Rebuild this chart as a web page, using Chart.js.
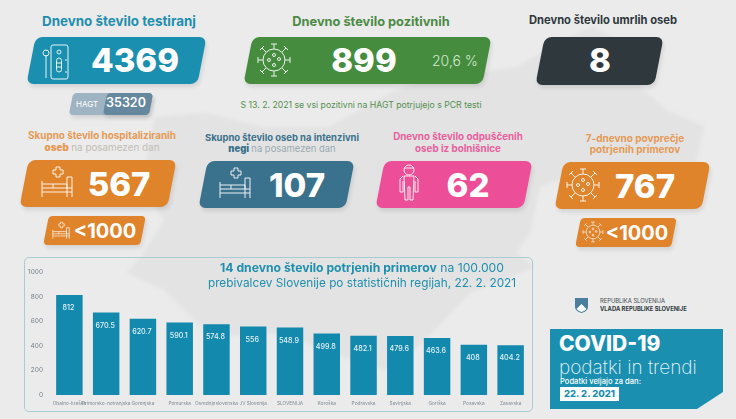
<!DOCTYPE html>
<html>
<head>
<meta charset="utf-8">
<script src="https://cdn.jsdelivr.net/npm/chart.js@4"></script>
<style>
  html, body { margin: 0; padding: 0; }
  body { width: 736px; height: 419px; overflow: hidden; background: #ebebeb; position: relative; font-family: Inter, "Open Sans", sans-serif; }
  #map { position: absolute; left: 0; top: 0; filter: blur(1.5px); }
  .card { position: absolute; transform: skewX(-11deg); border-radius: 7px; box-shadow: 2px 3px 4px rgba(0,0,0,0.10); }
  .t { position: absolute; white-space: nowrap; transform: translate(-50%, -50%); line-height: 1; }
  .l { position: absolute; white-space: nowrap; transform: translateY(-50%); line-height: 1; }
  #panel { position: absolute; left: 24px; top: 257px; width: 509px; height: 155px; border: 1px solid #a8cbd4; border-radius: 5px; box-sizing: border-box; }
  #chartBox { position: absolute; left: 24px; top: 257px; width: 510px; height: 156px; }
  #covid { position: absolute; left: 550px; top: 329px; width: 173px; height: 80px; background: #1a8fb0; clip-path: polygon(0 0, 100% 0, 100% 63px, 147px 100%, 0 100%); }
  #dateBox { position: absolute; left: 560px; top: 387px; width: 59px; height: 14px; background: #fff; }
  svg.ic { position: absolute; fill: none; stroke: #fff; overflow: visible; opacity: 0.9; }
</style>
</head>
<body>
<svg id="map" width="736" height="419">
  <path fill="#e3e3e3" d="M155 117 L207 113 L263 127 L329 127 L390 93 L423 80 L516 67 L563 40 L592 27 L624 43 L643 90 L667 110 L704 127 L695 167 L577 173 L540 187 L530 233 L516 253 L535 267 L470 293 L423 343 L385 370 L329 353 L282 333 L211 337 L164 290 L127 273 L141 257 L164 220 L141 187 Z"/>
</svg>
<div id="panel"></div>
<div id="chartBox"><canvas id="regions"></canvas></div>
<div id="covid"></div>
<div id="dateBox"></div>
<svg width="0" height="0" style="position:absolute">
  <defs>
    <g id="virus">
      <circle cx="0" cy="0" r="11"/>
      <circle cx="0" cy="-5" r="1.5"/><circle cx="-5" cy="0" r="1.5"/><circle cx="5" cy="-1" r="1.5"/><circle cx="0" cy="5" r="1.5"/>
      <path d="M0 -11V-16M-3 -16H3M0 11V16M-3 16H3M-11 0H-16M-16 -3V3M11 0H16M16 -3V3M-8 -8L-12 -12M-14 -10L-10 -14M8 -8L12 -12M10 -14L14 -10M-8 8L-12 12M-14 10L-10 14M8 8L12 12M10 14L14 10"/>
    </g>
    <g id="bed">
      <path d="M-15 14V-2M-15 5H15M-15 9H15M15 14V-6M10 14V-6H15M10 5V1H-4V5M-15 1H-4"/>
      <path d="M-4 -13H-1V-16H3V-13H6V-9H3V-6H-1V-9H-4Z"/>
    </g>
    <g id="person">
      <circle cx="0" cy="-13" r="5"/>
      <path d="M-6 -7L-9 -4V9H-6V-2M6 -7L9 -4V9H6V-2M-5 -7H5L4 17H1V4H-1V17H-4ZM-5 -15H5"/>
    </g>
    <g id="kit">
      <rect x="-8" y="-16" width="17" height="34" rx="2"/>
      <circle cx="0" cy="-9" r="2"/><rect x="-2.5" y="-3" width="5" height="14" rx="2.5"/>
      <path d="M-2.5 2H2.5M-2.5 6H2.5M6 -1H8M6 11H8M-13 -6V17"/>
      <circle cx="-13" cy="-8" r="3"/>
    </g>
  </defs>
</svg>
<script>
// --- Data ---
const regions = ['Obalno-kraška', 'Primorsko-notranjska', 'Gorenjska', 'Pomurska', 'Osrednjeslovenska', 'JV Slovenija', 'SLOVENIJA', 'Koroška', 'Podravska', 'Savinjska', 'Goriška', 'Posavska', 'Zasavska'];
const incidence = [812, 670.5, 620.7, 590.1, 574.8, 556, 548.9, 499.8, 482.1, 479.6, 463.6, 408, 404.2];
const incidenceLabels = ['812', '670.5', '620.7', '590.1', '574.8', '556', '548.9', '499.8', '482.1', '479.6', '463.6', '408', '404.2'];
const yTicks = [0, 200, 400, 600, 800, 1000];

const TEAL = '#1a8fb0', GREEN = '#458c3f', DARK = '#2f383d', ORANGE = '#e0842c', BLUE = '#3a718c', PINK = '#ec4f97';

// --- Infographic pieces around the chart ---
function card(x0, y0, x1, y1, color, radius) {
  const el = document.createElement('div');
  const inset = (y1 - y0) * Math.tan(11 * Math.PI / 180) / 2;
  el.className = 'card';
  el.style.cssText = `left:${x0 + inset}px;top:${y0}px;width:${x1 - x0 - 2 * inset}px;height:${y1 - y0}px;background:${color};border-radius:${radius || 7}px`;
  document.body.appendChild(el);
}
function text(html, x, y, size, weight, color, cls) {
  const el = document.createElement('div');
  el.className = cls || 't';
  el.innerHTML = html;
  el.style.cssText = `left:${x}px;top:${y}px;font-size:${size}px;font-weight:${weight};color:${color}`;
  document.body.appendChild(el);
}
function icon(name, x, y, scale, strokeW) {
  const ns = 'http://www.w3.org/2000/svg';
  const svg = document.createElementNS(ns, 'svg');
  svg.setAttribute('class', 'ic');
  svg.setAttribute('width', '1');
  svg.setAttribute('height', '1');
  svg.style.left = x + 'px';
  svg.style.top = y + 'px';
  const use = document.createElementNS(ns, 'use');
  use.setAttribute('href', '#' + name);
  use.setAttribute('transform', `scale(${scale})`);
  use.setAttribute('stroke-width', (strokeW || 1) / scale);
  svg.appendChild(use);
  document.body.appendChild(svg);
}

card(26, 37, 206, 84, TEAL);
card(243, 37, 491, 84, GREEN);
card(535, 37, 663, 85, DARK);
card(69, 93, 153, 115, '#9fb4c2', 4);
card(103, 93, 153, 115, '#66889f', 4);
card(19, 160, 176, 207, ORANGE);
card(198, 161, 354, 208, BLUE);
card(375, 161, 532, 208, PINK);
card(554, 162, 710, 209, ORANGE);
card(43, 216, 146, 245, ORANGE, 4);
card(575, 218, 677, 247, ORANGE, 4);

text('Dnevno število testiranj', 119, 22, 13.4, 700, '#1f8fae');
text('Dnevno število pozitivnih', 371, 22, 12.8, 700, '#4b8a45');
text('Dnevno število umrlih oseb', 603, 21, 11.2, 700, DARK);
text('4369', 135, 60, 33, 800, '#fff');
text('899', 364, 60, 33, 800, '#fff');
text('8', 600, 60, 33, 800, '#fff');
text('20,6 %', 455, 61, 14, 300, '#d3e8cd');
text('HAGT', 87, 104, 8, 400, '#fff');
text('35320', 126, 103, 12.5, 600, '#fff');
text('S 13. 2. 2021 se vsi pozitivni na HAGT potrjujejo s PCR testi', 361, 105, 8.7, 400, '#558f50');

text('Skupno število hospitaliziranih', 102, 136, 9.9, 700, '#e59a55');
text('<b>oseb</b> <span style="color:#c4bcb4;font-weight:400">na posamezen dan</span>', 102, 148, 9.9, 700, '#e59a55');
text('Skupno število oseb na intenzivni', 282, 138, 9.45, 700, BLUE);
text('<b>negi</b> <span style="color:#9aaab2;font-weight:400">na posamezen dan</span>', 282, 149, 9.45, 700, BLUE);
text('Dnevno število odpuščenih', 458, 137, 9.8, 700, '#e8609e');
text('oseb iz bolnišnice', 458, 149, 9.8, 700, '#e8609e');
text('7-dnevno povprečje', 635, 138, 10, 700, '#e59a55');
text('potrjenih primerov', 635, 149, 10, 700, '#e59a55');
text('567', 119, 184, 33, 800, '#fff');
text('107', 297, 185, 33, 800, '#fff');
text('62', 468, 185, 33, 800, '#fff');
text('767', 645, 186, 33, 800, '#fff');
text('&lt;1000', 105, 231, 20, 700, '#fff');
text('&lt;1000', 637, 233, 20, 700, '#fff');

icon('kit', 59, 61, 1);
icon('virus', 274, 60, 1);
icon('bed', 56.5, 183, 1);
icon('bed', 234.5, 184, 1);
icon('person', 409, 183, 1);
icon('virus', 583, 185, 1);
icon('bed', 60.5, 231, 0.55, 0.7);
icon('virus', 593, 232, 0.62, 0.7);

text('<b>14 dnevno število potrjenih primerov</b> na 100.000', 362, 268, 12.2, 400, '#1f8fae');
text('prebivalcev Slovenije po statističnih regijah, 22. 2. 2021', 362, 283.5, 11.8, 400, '#1f8fae');

text('REPUBLIKA SLOVENIJA', 600, 301, 5.8, 400, '#3d4a52', 'l');
text('VLADA REPUBLIKE SLOVENIJE', 600, 309, 5.8, 700, '#2f383d', 'l');
document.body.insertAdjacentHTML('beforeend', '<svg style="position:absolute;left:575px;top:297px" width="13" height="16"><path d="M0 1H13V10Q13 14 6.5 16Q0 14 0 10Z" fill="#4a7f9c"/><path d="M1.5 12L6.5 7L11.5 12Q9 14.5 6.5 15Q4 14.5 1.5 12Z" fill="#fff"/></svg>');
text('COVID-19', 559, 343, 21, 800, '#fff', 'l');
text('podatki in trendi', 559, 367, 19, 200, '#e8f4f8', 'l');
text('Podatki veljajo za dan:', 560, 382, 7.6, 500, '#fff', 'l');
text('22. 2. 2021', 589.5, 394, 9.5, 800, TEAL);

// --- Value labels inside each bar, near its top ---
const barValueLabels = {
  id: 'barValueLabels',
  afterDatasetsDraw(chart) {
    const { ctx } = chart;
    ctx.save();
    ctx.font = '500 7.2px Inter, sans-serif';
    ctx.fillStyle = '#e6f3f7';
    ctx.textAlign = 'center';
    ctx.textBaseline = 'middle';
    chart.getDatasetMeta(0).data.forEach((bar, i) => {
      ctx.fillText(incidenceLabels[i], bar.x - 1, bar.y + 13);
    });
    ctx.restore();
  }
};

new Chart(document.getElementById('regions'), {
  type: 'bar',
  data: {
    labels: regions,
    datasets: [{ data: incidence, backgroundColor: '#1289ad', barPercentage: 0.72, categoryPercentage: 1 }]
  },
  options: {
    responsive: true,
    maintainAspectRatio: false,
    animation: false,
    layout: { padding: { top: 15, right: 5 } },
    plugins: { legend: { display: false }, tooltip: { enabled: false } },
    scales: {
      y: {
        min: 0,
        max: 1000,
        afterFit: s => { s.width = 27; },
        afterBuildTicks: s => { s.ticks = yTicks.map(value => ({ value })); },
        grid: { display: false, drawTicks: false },
        border: { display: false },
        ticks: { color: '#6f7f88', font: { size: 6.5, family: 'Inter' }, padding: 8, callback: v => String(v) }
      },
      x: {
        afterFit: s => { s.height = 18; },
        grid: { display: false, drawTicks: false },
        border: { display: false },
        ticks: { color: '#7d8b93', font: { size: 4.8, family: 'Inter' }, autoSkip: false, maxRotation: 0, minRotation: 0, padding: 6 }
      }
    }
  },
  plugins: [barValueLabels]
});
</script>
</body>
</html>
